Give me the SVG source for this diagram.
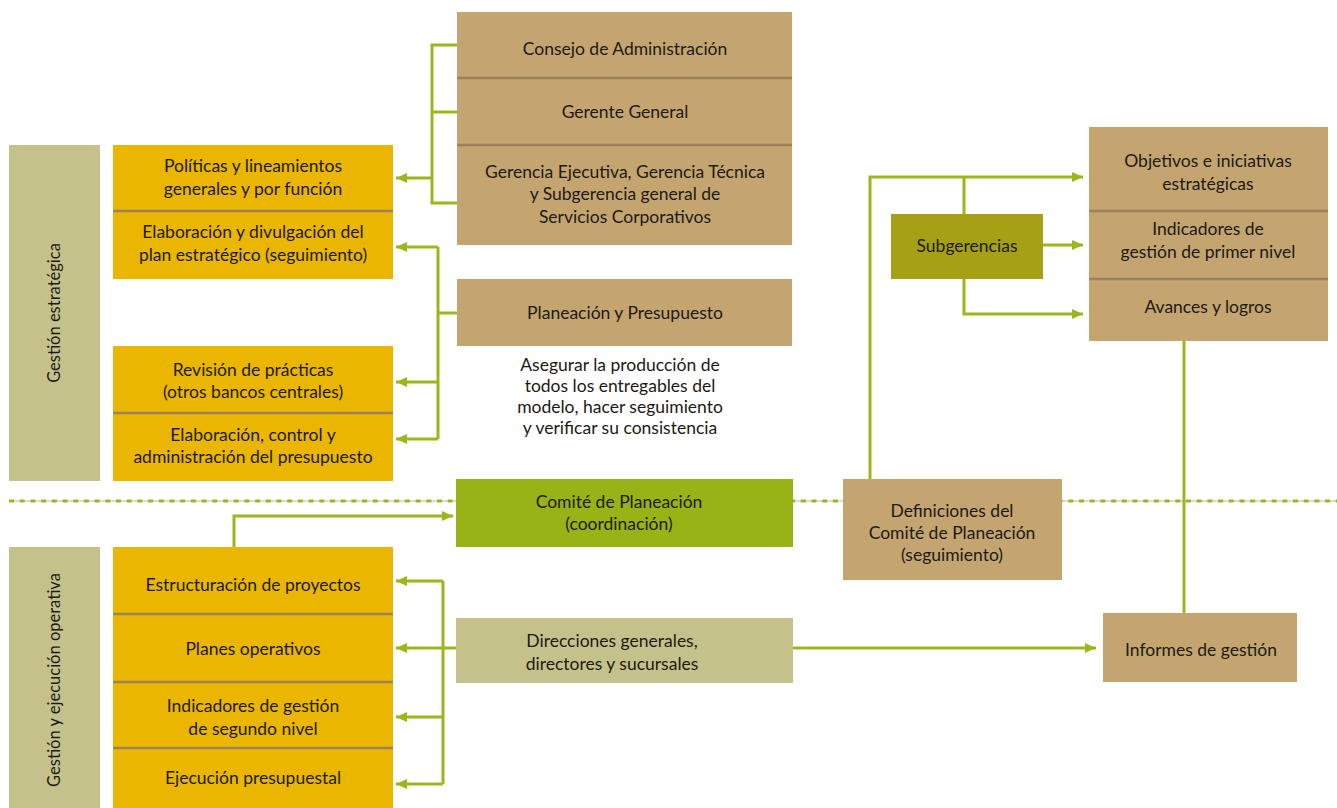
<svg xmlns="http://www.w3.org/2000/svg" width="1337" height="808" viewBox="0 0 1337 808">
<defs>
<style>
text{font-family:Lato,"Open Sans","Liberation Sans",sans-serif;font-size:17.5px;fill:#1c1a14;text-anchor:middle}
.vt{font-size:16.5px}
.yel{fill:#ebb600}
.tan{fill:#c4a570}
.olv{fill:#c4c28a}
.cmt{fill:#97b315}
.sub{fill:#a6a014}
.div{stroke:#9c835d;stroke-width:2.5}
.ln{fill:none;stroke:#99b81c;stroke-width:3}
.ar{fill:none;stroke:#99b81c;stroke-width:3;marker-end:url(#ah)}
</style>
<marker id="ah" markerUnits="userSpaceOnUse" markerWidth="12" markerHeight="12" viewBox="0 0 12 12" refX="11" refY="6" orient="auto">
<path d="M0,1 L11,6 L0,11 Z" fill="#99b81c"/>
</marker>
</defs>
<rect width="1337" height="808" fill="#fff"/>

<g id="separator">
<line x1="9" y1="501" x2="1337" y2="501" stroke="#b4b4b4" stroke-width="1"/>
<line x1="9" y1="501" x2="1337" y2="501" stroke="#99b81c" stroke-width="3" stroke-dasharray="5 5.7"/>
</g>

<g id="connectors">
<polyline class="ln" points="457,45 432,45 432,203 457,203"/>
<line class="ln" x1="432" y1="112" x2="457" y2="112"/>
<line class="ar" x1="432" y1="178" x2="396" y2="178"/>
<line class="ln" x1="438" y1="247" x2="438" y2="439"/>
<line class="ln" x1="438" y1="313" x2="457" y2="313"/>
<line class="ar" x1="438" y1="247" x2="396" y2="247"/>
<line class="ar" x1="438" y1="382" x2="396" y2="382"/>
<line class="ar" x1="438" y1="439" x2="396" y2="439"/>
<polyline class="ar" points="234,547 234,516 453,516"/>
<line class="ln" x1="443" y1="581" x2="443" y2="784"/>
<line class="ln" x1="443" y1="648" x2="456" y2="648"/>
<line class="ar" x1="443" y1="581" x2="396" y2="581"/>
<line class="ar" x1="443" y1="648" x2="396" y2="648"/>
<line class="ar" x1="443" y1="717" x2="396" y2="717"/>
<line class="ar" x1="443" y1="784" x2="396" y2="784"/>
<polyline class="ar" points="870,479 870,177 1083,177"/>
<line class="ln" x1="964" y1="214" x2="964" y2="177"/>
<line class="ar" x1="1043" y1="245" x2="1083" y2="245"/>
<polyline class="ar" points="964,279 964,314 1083,314"/>
<line class="ar" x1="793" y1="648" x2="1096" y2="648"/>
<line class="ln" x1="1184" y1="341" x2="1184" y2="613"/>
</g>

<g id="gestion-estrategica">
<rect class="olv" x="9" y="145" width="91" height="336"/>
<text class="vt" transform="translate(54,313) rotate(-90)" dy="6">Gestión estratégica</text>
</g>
<g id="gestion-operativa">
<rect class="olv" x="9" y="547" width="91" height="261"/>
<text class="vt" transform="translate(54,680) rotate(-90)" dy="6">Gestión y ejecución operativa</text>
</g>

<g id="politicas">
<rect class="yel" x="113" y="145" width="280" height="134"/>
<line class="div" x1="113" y1="211" x2="393" y2="211"/>
<text x="253" y="172">Políticas y lineamientos</text>
<text x="253" y="195">generales y por función</text>
<text x="253" y="238">Elaboración y divulgación del</text>
<text x="253" y="261">plan estratégico (seguimiento)</text>
</g>

<g id="revision">
<rect class="yel" x="113" y="346" width="280" height="135"/>
<line class="div" x1="113" y1="413" x2="393" y2="413"/>
<text x="253" y="376">Revisión de prácticas</text>
<text x="253" y="398">(otros bancos centrales)</text>
<text x="253" y="441">Elaboración, control y</text>
<text x="253" y="463">administración del presupuesto</text>
</g>

<g id="operativos">
<rect class="yel" x="113" y="547" width="280" height="261"/>
<line class="div" x1="113" y1="614" x2="393" y2="614"/>
<line class="div" x1="113" y1="682" x2="393" y2="682"/>
<line class="div" x1="113" y1="748" x2="393" y2="748"/>
<text x="253" y="591">Estructuración de proyectos</text>
<text x="253" y="655">Planes operativos</text>
<text x="253" y="712">Indicadores de gestión</text>
<text x="253" y="735">de segundo nivel</text>
<text x="253" y="784">Ejecución presupuestal</text>
</g>

<g id="direccion">
<rect class="tan" x="457" y="12" width="335" height="233"/>
<line class="div" x1="457" y1="78" x2="792" y2="78"/>
<line class="div" x1="457" y1="145" x2="792" y2="145"/>
<text x="625" y="55">Consejo de Administración</text>
<text x="625" y="118">Gerente General</text>
<text x="625" y="178">Gerencia Ejecutiva, Gerencia Técnica</text>
<text x="625" y="200">y Subgerencia general de</text>
<text x="625" y="223">Servicios Corporativos</text>
</g>

<g id="planeacion">
<rect class="tan" x="457" y="279" width="335" height="67"/>
<text x="625" y="319">Planeación y Presupuesto</text>
</g>
<g id="planeacion-nota">
<text x="620" y="371">Asegurar la producción de</text>
<text x="620" y="392">todos los entregables del</text>
<text x="620" y="413">modelo, hacer seguimiento</text>
<text x="620" y="434">y verificar su consistencia</text>
</g>

<g id="comite">
<rect class="cmt" x="456" y="479" width="337" height="68"/>
<text x="619" y="508">Comité de Planeación</text>
<text x="619" y="530">(coordinación)</text>
</g>

<g id="direcciones">
<rect class="olv" x="456" y="618" width="337" height="65"/>
<text x="612" y="647">Direcciones generales,</text>
<text x="612" y="670">directores y sucursales</text>
</g>

<g id="definiciones">
<rect class="tan" x="843" y="479" width="219" height="101"/>
<text x="952" y="517">Definiciones del</text>
<text x="952" y="539">Comité de Planeación</text>
<text x="952" y="561">(seguimiento)</text>
</g>

<g id="subgerencias">
<rect class="sub" x="891" y="214" width="152" height="65"/>
<text x="967" y="252">Subgerencias</text>
</g>

<g id="objetivos">
<rect class="tan" x="1089" y="127" width="239" height="214"/>
<line class="div" x1="1089" y1="211" x2="1328" y2="211"/>
<line class="div" x1="1089" y1="279" x2="1328" y2="279"/>
<text x="1208" y="167">Objetivos e iniciativas</text>
<text x="1208" y="190">estratégicas</text>
<text x="1208" y="235">Indicadores de</text>
<text x="1208" y="258">gestión de primer nivel</text>
<text x="1208" y="313">Avances y logros</text>
</g>

<g id="informes">
<rect class="tan" x="1103" y="613" width="194" height="69"/>
<text x="1201" y="656">Informes de gestión</text>
</g>
</svg>
